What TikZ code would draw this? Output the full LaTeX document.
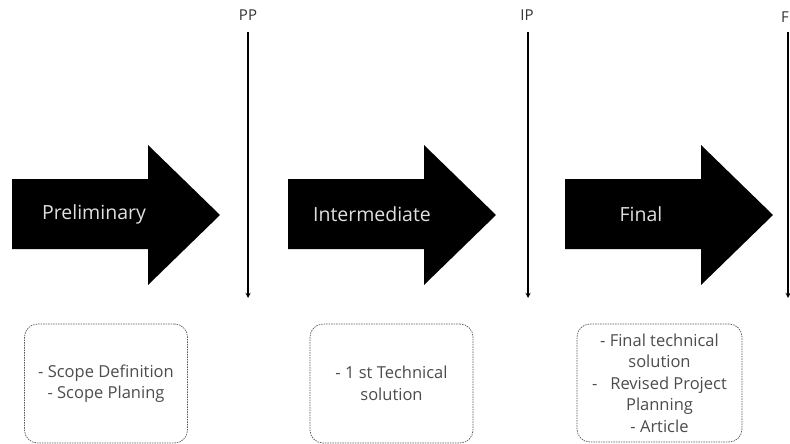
\documentclass[tikz,border=0pt]{standalone}
\usepackage{fontspec}
\setmainfont{Open Sans}
\begin{document}
\begin{tikzpicture}[x=1pt, y=-1pt,
        phase/.style={fill=black},
        phasetext/.style={text=black!12, font=\fontsize{19.5}{22}\selectfont},
        note/.style={draw=black!65, line width=0.7pt, dash pattern=on 1.5pt off 1pt, rounded corners=13pt, minimum width=163pt, minimum height=119pt, align=center, text=black!70, font=\fontsize{16.5}{21.5}\selectfont},
        gate/.style={text=black!80, font=\fontsize{15}{17}\selectfont},
        arrow/.style={->, line width=1.3pt, >=stealth}]

        \useasboundingbox (0,0) rectangle (790,444);

        % Fases
        \fill[phase] (12,179) -- (148,179) -- (148,145) -- (220,215) -- (148,285) -- (148,249) -- (12,249) -- cycle;
        \node[phasetext] (prelim) at (94,214) {Preliminary};
        \fill[phase] (288,179) -- (424,179) -- (424,145) -- (496,215) -- (424,285) -- (424,249) -- (288,249) -- cycle;
        \node[phasetext] (inter) at (372,214) {Intermediate};
        \fill[phase] (565,179) -- (701,179) -- (701,145) -- (773,215) -- (701,285) -- (701,249) -- (565,249) -- cycle;
        \node[phasetext] (final) at (641,214) {Final};

        % Mijlpalen
        \node[gate] (pp) at (248,15) {PP};
        \coordinate (ppend) at (248,298);
        \draw[arrow] (248,32) -- (ppend);
        \node[gate] (ip) at (527,15) {IP};
        \coordinate (ipend) at (528,298);
        \draw[arrow] (528,32) -- (ipend);
        \node[gate] (fp) at (785,17) {F};
        \coordinate (fpend) at (788,298);
        \draw[arrow] (788,32) -- (fpend);

        % Resultaten
        \node[note] (prelimout) at (106,383.5) {- Scope Definition\\- Scope Planing};
        \node[note] (interout) at (391.5,383.5) {- 1 st Technical\\solution};
        \node[note, minimum width=165pt, minimum height=118pt] (finalout) at (659.5,383) {- Final technical\\solution\\-\ \ \ Revised Project\\Planning\\- Article};

    \end{tikzpicture}
\end{document}
